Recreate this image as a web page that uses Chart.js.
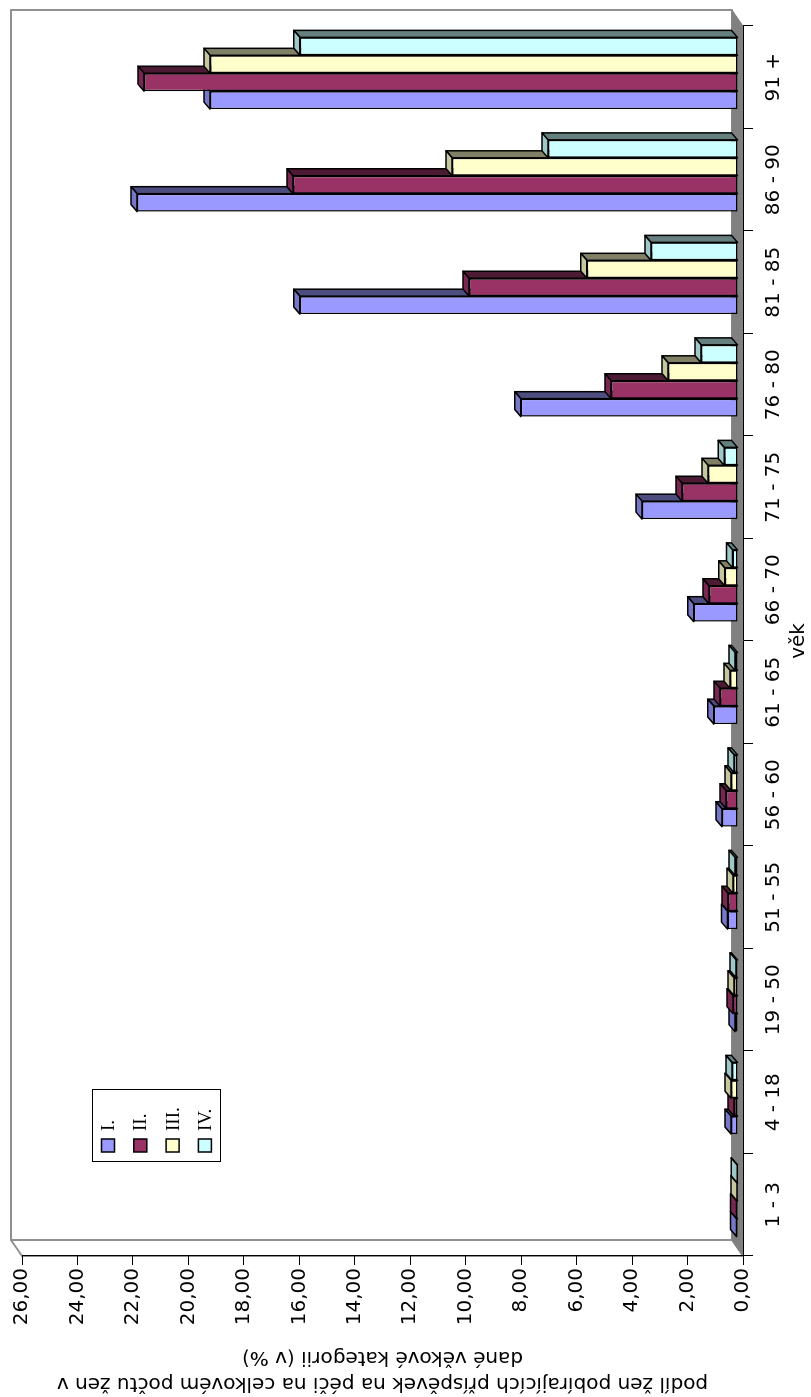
<!DOCTYPE html>
<html>
<head>
<meta charset="utf-8">
<script src="https://cdn.jsdelivr.net/npm/chart.js@4/dist/chart.umd.min.js"></script>
<style>
    html, body { margin: 0; padding: 0; background: #fff; overflow: hidden; }
    #wrap {
        position: absolute; left: 0; top: 0;
        width: 1397px; height: 811px;
        transform-origin: 0 0;
        transform: translateY(1397px) rotate(-90deg);
    }
</style>
</head>
<body>
<div id="wrap"><canvas id="chart" width="1397" height="811"></canvas></div>
<script>
// data
const categories = ['1 - 3', '4 - 18', '19 - 50', '51 - 55', '56 - 60', '61 - 65',
    '66 - 70', '71 - 75', '76 - 80', '81 - 85', '86 - 90', '91 +'];
const seriesNames = ['I.', 'II.', 'III.', 'IV.'];
const serie1 = [0.05, 0.25, 0.11, 0.38, 0.58, 0.87, 1.60, 3.46, 7.83, 15.80, 21.67, 19.04];
const serie2 = [0.05, 0.14, 0.18, 0.36, 0.43, 0.65, 1.05, 2.02, 4.58, 9.70, 16.05, 21.42];
const serie3 = [0.04, 0.25, 0.14, 0.18, 0.25, 0.29, 0.48, 1.08, 2.52, 5.45, 10.31, 19.04];
const serie4 = [0.03, 0.22, 0.07, 0.11, 0.14, 0.11, 0.20, 0.50, 1.33, 3.14, 6.85, 15.80];
const valueMax = 26;
const valueStep = 2;
const yTitle = ['podíl žen pobírajících příspěvek na péči na celkovém počtu žen v', 'dané věkové kategorii (v %)'];
const xTitle = 'věk';

const colors = ['#9999FF', '#993366', '#FFFFCC', '#CCFFFF'];

// 3d look
const wallDepth = { x: 16, y: -11 };
const barDepth = { x: 7, y: -6 };
const barShift = { x: 4, y: -5 };

function shade(hex, f) {
    const n = parseInt(hex.slice(1), 16);
    const r = Math.round(((n >> 16) & 255) * f);
    const g = Math.round(((n >> 8) & 255) * f);
    const b = Math.round((n & 255) * f);
    return `rgb(${r}, ${g}, ${b})`;
}

function poly(ctx, pts, fill, stroke, lw) {
    ctx.beginPath();
    ctx.moveTo(pts[0][0], pts[0][1]);
    for (let i = 1; i < pts.length; i++) ctx.lineTo(pts[i][0], pts[i][1]);
    ctx.closePath();
    ctx.fillStyle = fill;
    ctx.fill();
    if (stroke) {
        ctx.strokeStyle = stroke;
        ctx.lineWidth = lw;
        ctx.lineJoin = 'round';
        ctx.stroke();
    }
}

const frame3d = {
    id: 'frame3d',
    beforeDraw(chart) {
        const ctx = chart.ctx;
        const a = chart.chartArea;
        const top = chart.scales.y.getPixelForValue(valueMax);
        const dx = wallDepth.x, dy = wallDepth.y;
        ctx.save();
        // back wall
        poly(ctx, [[a.left + dx, top + dy], [a.right + dx, top + dy], [a.right + dx, a.bottom + dy], [a.left + dx, a.bottom + dy]], '#fff', '#909090', 2);
        // side wall
        poly(ctx, [[a.left, top], [a.left + dx, top + dy], [a.left + dx, a.bottom + dy], [a.left, a.bottom]], '#fff', '#909090', 2);
        // floor
        poly(ctx, [[a.left, a.bottom], [a.left + dx, a.bottom + dy], [a.right + dx, a.bottom + dy], [a.right, a.bottom]], '#808080', '#808080', 1);
        ctx.restore();
    },
};

const bars3d = {
    id: 'bars3d',
    beforeDatasetsDraw(chart) {
        const ctx = chart.ctx;
        ctx.save();
        ctx.translate(barShift.x, barShift.y);
        chart.data.datasets.forEach((ds, i) => {
            const meta = chart.getDatasetMeta(i);
            meta.data.forEach((bar) => {
                const l = bar.x - bar.width / 2;
                const r = bar.x + bar.width / 2;
                poly(ctx, [[r, bar.y], [r + barDepth.x, bar.y + barDepth.y],
                    [r + barDepth.x, bar.base + barDepth.y], [r, bar.base]], shade(colors[i], 0.5), '#000', 1.5);
                poly(ctx, [[l, bar.y], [l + barDepth.x, bar.y + barDepth.y],
                    [r + barDepth.x, bar.y + barDepth.y], [r, bar.y]], shade(colors[i], 0.78), '#000', 1.5);
            });
        });
    },
    afterDatasetsDraw(chart) {
        chart.ctx.restore();
    },
};

const legendBox = {
    id: 'legendBox',
    afterDraw(chart) {
        const ctx = chart.ctx;
        const x = 235, y = 92, w = 72, h = 128;
        ctx.save();
        ctx.fillStyle = '#fff';
        ctx.fillRect(x, y, w, h);
        ctx.strokeStyle = '#000';
        ctx.lineWidth = 1;
        ctx.strokeRect(x + 0.5, y + 0.5, w, h);
        ctx.font = '19px "Liberation Serif", serif';
        ctx.textBaseline = 'middle';
        chart.data.datasets.forEach((ds, i) => {
            const cy = y + 16 + i * 32.3;
            ctx.fillStyle = ds.backgroundColor;
            ctx.fillRect(x + 10, cy - 6.5, 13, 13);
            ctx.strokeStyle = '#000';
            ctx.lineWidth = 1.5;
            ctx.strokeRect(x + 10, cy - 6.5, 13, 13);
            ctx.fillStyle = '#000';
            ctx.fillText(ds.label, x + 31, cy + 1);
        });
        ctx.restore();
    },
};

Chart.defaults.font.family = '"DejaVu Sans", Verdana, sans-serif';
Chart.defaults.font.size = 20;
Chart.defaults.color = '#000';

const allSeries = [serie1, serie2, serie3, serie4];

new Chart(document.getElementById('chart'), {
    type: 'bar',
    data: {
        labels: categories,
        datasets: allSeries.map((values, i) => ({
            label: seriesNames[i],
            data: values,
            backgroundColor: colors[i],
            borderColor: '#000',
            borderWidth: 1.5,
            borderSkipped: false,
            clip: false,
        })),
    },
    options: {
        responsive: false,
        animation: false,
        devicePixelRatio: 1,
        categoryPercentage: 0.7,
        barPercentage: 1.0,
        layout: { padding: { top: 22, right: 26, bottom: 0, left: 0 } },
        plugins: {
            legend: { display: false },
            tooltip: { enabled: false },
        },
        scales: {
            x: {
                grid: { drawOnChartArea: false, drawTicks: true, tickLength: 10, color: '#000', offset: true },
                border: { display: true, color: '#000', width: 1 },
                ticks: { maxRotation: 0, minRotation: 0, padding: 9, autoSkip: false },
                title: { display: true, text: xTitle, padding: 0, font: { size: 20, lineHeight: 1.2 } },
                afterFit: (scale) => { scale.height = 68; },
            },
            y: {
                min: 0,
                max: valueMax,
                grid: { drawOnChartArea: false, drawTicks: true, tickLength: 9, color: '#000' },
                border: { display: true, color: '#000', width: 1 },
                ticks: {
                    stepSize: valueStep,
                    padding: 3,
                    callback: (v) => v.toFixed(2).replace('.', ','),
                },
                title: {
                    display: true,
                    text: yTitle,
                    padding: { top: 1, bottom: 0 },
                    font: { size: 20, lineHeight: 1.3 },
                },
                afterFit: (scale) => { scale.width = 141; },
            },
        },
    },
    plugins: [frame3d, bars3d, legendBox],
});
</script>
</body>
</html>
